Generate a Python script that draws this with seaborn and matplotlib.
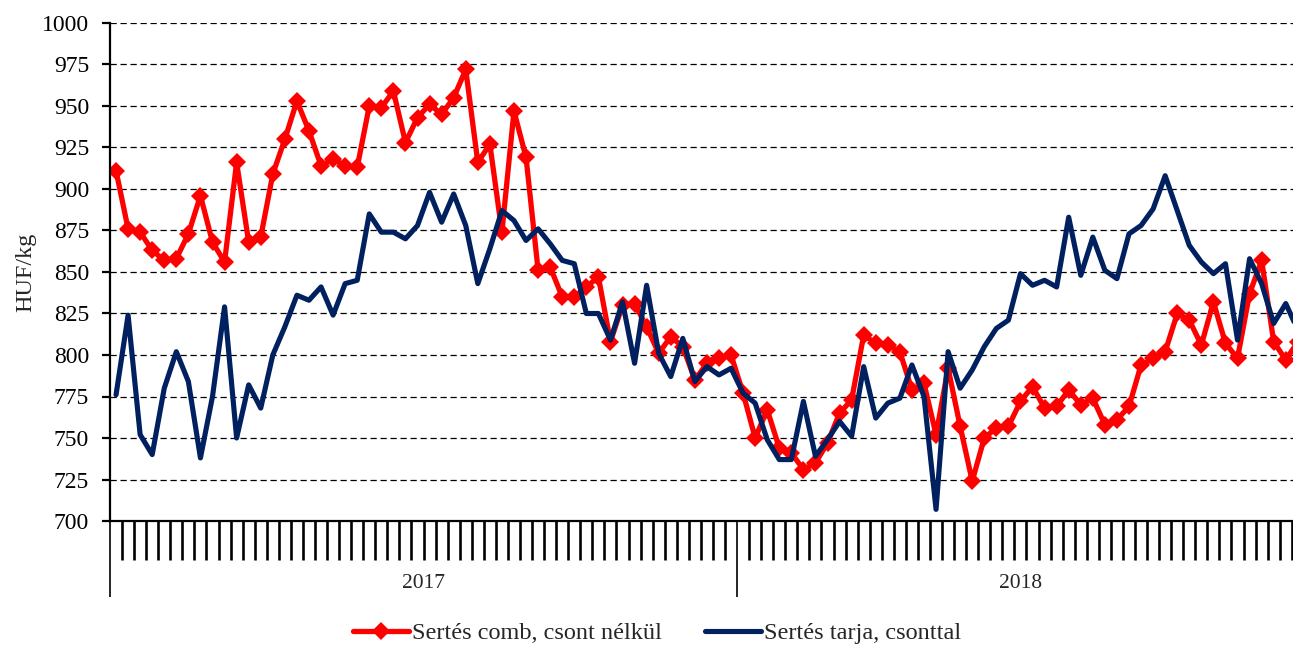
import numpy as np
import pandas as pd
import matplotlib
matplotlib.use('Agg')
import matplotlib.pyplot as plt
import seaborn as sns
from matplotlib.ticker import FixedLocator, NullFormatter

# heti árak, HUF/kg (2017: 52 hét, 2018: 47 hét)
comb_2017 = [911, 876, 874, 863, 857, 858, 873, 896, 868, 856, 916, 868, 871,
             909, 930, 953, 935, 914, 918, 914, 913, 950, 949, 959, 928, 943,
             951, 945, 955, 972, 916, 927, 874, 947, 919, 851, 853, 835, 835,
             841, 847, 808, 830, 831, 817, 801, 811, 805, 785, 795, 798, 800]
comb_2018 = [777, 750, 767, 744, 741, 731, 735, 747, 765, 773, 812, 807, 806,
             802, 779, 783, 752, 792, 757, 724, 750, 756, 757, 772, 781, 768,
             769, 779, 770, 774, 758, 761, 769, 794, 798, 802, 825, 821, 806,
             832, 807, 798, 837, 857, 808, 797, 808]
tarja_2017 = [776, 824, 752, 740, 780, 802, 784, 738, 775, 829, 750, 782, 768,
              800, 817, 836, 833, 841, 824, 843, 845, 885, 874, 874, 870, 878,
              898, 880, 897, 878, 843, 864, 887, 881, 869, 876, 867, 857, 855,
              825, 825, 809, 832, 795, 842, 801, 787, 810, 784, 793, 788, 792]
tarja_2018 = [777, 771, 749, 737, 737, 772, 739, 749, 760, 751, 793, 762, 771,
              774, 794, 775, 707, 802, 780, 791, 805, 816, 821, 849, 842, 845,
              841, 883, 848, 871, 851, 846, 873, 878, 888, 908, 887, 866, 856,
              849, 855, 809, 858, 843, 819, 831, 815]
years = ['2017', '2018']
labels = ['Sertés comb, csont nélkül', 'Sertés tarja, csonttal']

comb = comb_2017 + comb_2018
tarja = tarja_2017 + tarja_2018
weeks = np.arange(len(comb))
n17 = len(comb_2017)

sns.set_style('white')
plt.rcParams['font.family'] = ['Liberation Serif', 'DejaVu Serif']
plt.rcParams['font.size'] = 17

fig = plt.figure(figsize=(12.93, 6.45), dpi=100)
ax = fig.add_axes([110 / 1293, 1 - 521 / 645, 1 - 110 / 1293, (521 - 23) / 645])

sns.lineplot(x=weeks, y=comb, ax=ax, color='#ff0000', linewidth=3.8,
             marker='D', markersize=9, mec='#ff0000', mew=0, label=labels[0])
sns.lineplot(x=weeks, y=tarja, ax=ax, color='#002060', linewidth=3.7,
             label=labels[1])

ax.set_ylim(700, 1000)
ax.set_xlim(-0.5, 97.6)
ax.set_yticks(np.arange(700, 1001, 25))
ax.yaxis.grid(True, color='black', linewidth=0.9, linestyle=(0, (5, 3)))
ax.set_axisbelow(True)

for s in ['top', 'right']:
    ax.spines[s].set_visible(False)
for s in ['left', 'bottom']:
    ax.spines[s].set_color('black')
    ax.spines[s].set_linewidth(1.6)

ax.tick_params(axis='y', left=True, direction='out', length=6, width=1.6,
               pad=9, colors='black', labelsize=17)
ax.xaxis.set_major_locator(FixedLocator([-0.5, n17 - 0.5, len(comb) - 0.5]))
ax.xaxis.set_minor_locator(FixedLocator(np.arange(-0.5, len(comb), 1)))
ax.xaxis.set_major_formatter(NullFormatter())
ax.tick_params(axis='x', which='major', bottom=True, direction='out',
               length=55, width=1.2, color='black')
ax.tick_params(axis='x', which='minor', bottom=True, direction='out',
               length=28, width=1.9, color='black')

centers = [(n17 - 1) / 2, n17 - 0.5 + (len(comb) - n17) / 2]
for yr, c in zip(years, centers):
    ax.annotate(yr, xy=(c, 0), xycoords=('data', 'axes fraction'),
                xytext=(0, -45), textcoords='offset points',
                ha='center', va='center', fontsize=15.5)

ax.set_ylabel('HUF/kg', fontsize=17.5)
ax.yaxis.set_label_coords(-0.062, 0.5)
ax.set_xlabel('')

handles, labs = ax.get_legend_handles_labels()
ax.get_legend().remove()
fig.legend(handles, labs, loc='center', bbox_to_anchor=(657 / 1293, 12 / 645),
           ncol=2, frameon=False, fontsize=17.5, handlelength=2.3,
           handletextpad=0.1, columnspacing=1.8)

fig.savefig('out.png', dpi=100)
